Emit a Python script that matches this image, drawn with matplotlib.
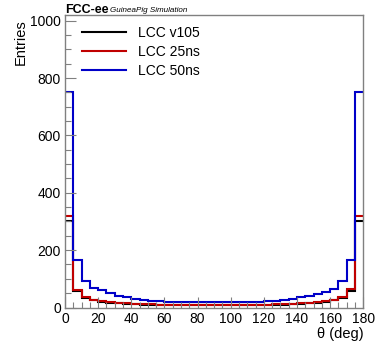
import numpy as np
import matplotlib
matplotlib.use("Agg")
import matplotlib.pyplot as plt
from matplotlib.ticker import MultipleLocator

plt.rcParams['font.family'] = ['Liberation Sans', 'DejaVu Sans']

# 5-degree bins in polar angle
bin_edges = np.arange(0, 185, 5)

lcc_v105 = [300, 57, 33, 25, 20, 17, 14, 12, 11, 10, 9, 8, 8, 8, 8, 8, 8, 8,
            8, 8, 8, 8, 8, 8, 8, 9, 10, 11, 12, 14, 17, 20, 25, 34, 59, 300]
lcc_25ns = [318, 62, 35, 27, 22, 19, 16, 14, 13, 12, 11, 10, 10, 10, 10, 10, 10, 10,
            10, 10, 10, 10, 10, 10, 10, 11, 12, 13, 14, 16, 19, 22, 27, 36, 64, 318]
lcc_50ns = [752, 165, 92, 68, 60, 50, 41, 35, 30, 26, 23, 21, 20, 19, 18, 18, 18, 18,
            18, 18, 18, 18, 19, 20, 21, 23, 26, 30, 35, 40, 48, 55, 63, 91, 165, 752]

series = [("LCC v105", lcc_v105, "black"),
          ("LCC 25ns", lcc_25ns, "#c00000"),
          ("LCC 50ns", lcc_50ns, "#0000c8")]

fig = plt.figure(figsize=(3.79, 3.44), dpi=100)
ax = fig.add_axes([65 / 379, 1 - 307.5 / 344, (363.3 - 65) / 379, (307.5 - 15) / 344])

for label, vals, color in series:
    ax.stairs(vals, bin_edges, color=color, lw=1.5, label=label, baseline=None)

ax.set_xlim(0, 180)
ax.set_ylim(0, 1020)
ax.xaxis.set_major_locator(MultipleLocator(20))
ax.xaxis.set_minor_locator(MultipleLocator(5))
ax.yaxis.set_major_locator(MultipleLocator(200))
ax.yaxis.set_minor_locator(MultipleLocator(50))

for sp in ax.spines.values():
    sp.set_color("#808080")
    sp.set_linewidth(1.0)
ax.tick_params(which="both", direction="in", color="#808080", labelsize=10,
               labelcolor="black")
ax.tick_params(which="major", length=8, width=0.8, pad=3)
ax.tick_params(which="minor", length=4, width=0.8)

ax.set_ylabel("Entries", fontsize=10.5)
ax.yaxis.set_label_coords(-0.125, 0.985)
ax.yaxis.label.set_horizontalalignment("right")
ax.set_xlabel("θ (deg)", fontsize=10.5)
ax.xaxis.set_label_coords(1.0, -0.068)
ax.xaxis.label.set_horizontalalignment("right")
ax.xaxis.label.set_verticalalignment("top")

leg = ax.legend(loc="upper left", bbox_to_anchor=(0.015, 1.005), frameon=False,
                fontsize=10, handlelength=3.2, handletextpad=0.8, labelspacing=0.35)

fig.text(65 / 379, 1 - 10 / 344, "FCC-ee", fontsize=9, fontweight="bold",
         va="center", ha="left")
fig.text(110 / 379, 1 - 10.5 / 344, "GuineaPig Simulation", fontsize=5.8, style="italic",
         va="center", ha="left")

fig.savefig("out.png", dpi=100)
